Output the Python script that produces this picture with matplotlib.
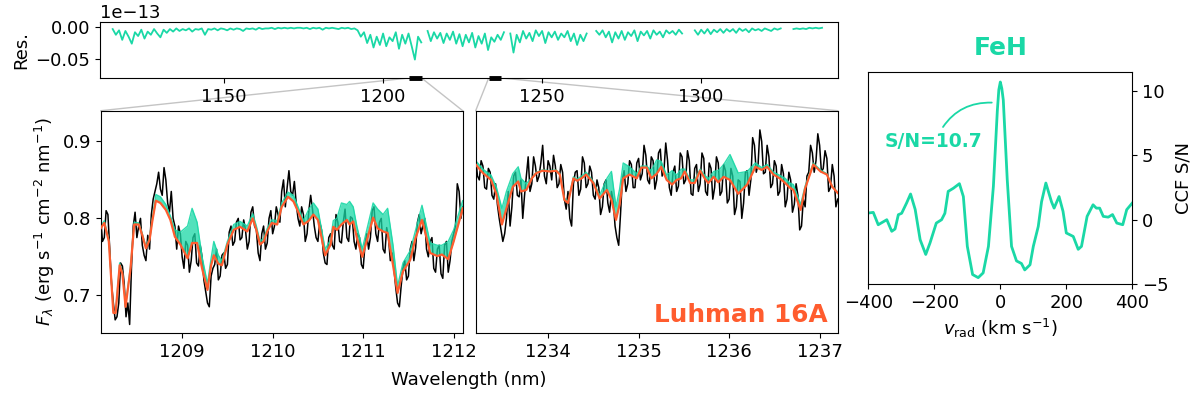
import numpy as np
from matplotlib import pyplot as plt
from matplotlib.patches import ConnectionPatch

teal = '#1ad8a6'
orange = '#ff5c2e'

# --- residual (FeH contribution), units of 1e-15, 1 nm steps, nan = gap
res_wl = np.arange(1115, 1339)
res_flux = [
    -0.3, -1.2, -0.5, -2.0, -0.6, -1.5, -2.6, -0.8, -1.4, -0.4,
    -1.8, -0.7, -1.2, -0.3, -1.0, -1.6, -0.4, -0.9, -0.3, -0.7,
    -0.2, -0.6, -0.3, -0.5, -0.2, -0.7, -0.3, -0.4, -0.2, -1.2,
    -0.3, -0.4, -0.2, -0.5, -0.2, -0.3, -0.5, -0.2, -0.4, -0.2,
    -0.3, -0.6, -0.2, -0.3, -0.2, -0.4, -0.1, -0.3, -0.2, -0.2,
    -0.1, -0.3, -0.1, -0.2, -0.1, -0.2, -0.1, -0.2, -0.1, -0.1,
    -0.2, -0.1, -0.3, -0.1, -0.2, -0.1, -0.4, -0.1, -0.2, -0.1,
    -0.2, -0.3, -0.1, -0.2, -0.1, -0.3, -0.2, -0.5, -1.5, -0.8,
    -2.5, -1.2, -3.2, -1.5, -2.8, -1.0, -3.0, -1.6, -2.2, -0.8,
    -3.4, -1.2, -2.6, -1.0, -3.0, -5.1, -1.5, -2.4, np.nan, -0.6,
    -2.2, -0.8, -1.8, -0.9, -2.5, -1.0, -2.0, -0.7, -2.6, -1.1,
    -3.0, -1.2, -2.4, -0.9, -3.2, -1.4, -2.6, -1.0, -3.6, -1.6,
    -2.3, -1.2, -2.0, -0.8, np.nan, -1.0, -4.0, -1.2, -2.4, -0.6,
    -1.8, -0.9, -2.2, -0.5, -1.4, -0.6, -2.5, -0.8, -1.6, -0.7,
    -2.0, -1.0, -1.6, -0.6, -2.2, -1.0, -2.8, -1.2, -2.2, -1.0,
    np.nan, np.nan, -0.6, -1.2, -0.5, -1.6, -0.7, -2.4, -0.8, -1.8,
    -0.6, -2.0, -0.8, -1.4, -0.5, -2.2, -0.7, -1.3, -0.6, -1.8,
    -0.5, -1.2, -0.7, -1.6, -0.5, -1.0, -0.6, -1.2, -0.4, -1.0,
    np.nan, np.nan, np.nan, -0.5, -1.2, -0.4, -1.0, -0.3, -1.1, -0.4,
    -0.8, -0.3, -0.9, -0.3, -0.7, -0.3, -0.9, -0.2, -0.6, -0.3,
    -0.8, -0.2, -0.5, -0.3, -0.6, -0.2, -0.4, -0.6, -0.2, -0.4,
    -0.2, np.nan, np.nan, np.nan, -0.3, -0.2, -0.3, -0.2, -0.3, -0.1,
    -0.2, -0.1, -0.2, -0.1,
]

# --- zoom windows (nm)
zoom_l = (1208.1, 1212.1)
zoom_r = (1233.2, 1237.2)

# --- observed spectrum, left window (0.02 nm steps)
obs_wl_l = np.linspace(1208.1, 1212.1, 201)
obs_flux_l = [
    0.800, 0.770, 0.775, 0.810, 0.805, 0.760, 0.715, 0.690, 0.668, 0.672,
    0.690, 0.742, 0.738, 0.715, 0.672, 0.690, 0.662, 0.735, 0.790, 0.808,
    0.775, 0.790, 0.800, 0.765, 0.752, 0.745, 0.778, 0.760, 0.805, 0.825,
    0.835, 0.845, 0.860, 0.838, 0.830, 0.866, 0.850, 0.820, 0.808, 0.835,
    0.800, 0.790, 0.760, 0.790, 0.780, 0.750, 0.735, 0.770, 0.765, 0.730,
    0.745, 0.775, 0.780, 0.742, 0.738, 0.765, 0.750, 0.720, 0.705, 0.690,
    0.685, 0.725, 0.735, 0.740, 0.760, 0.720, 0.725, 0.752, 0.755, 0.735,
    0.740, 0.782, 0.790, 0.765, 0.770, 0.795, 0.800, 0.772, 0.775, 0.798,
    0.785, 0.760, 0.770, 0.808, 0.815, 0.790, 0.785, 0.755, 0.745, 0.780,
    0.790, 0.760, 0.768, 0.800, 0.810, 0.780, 0.790, 0.815, 0.805, 0.795,
    0.835, 0.850, 0.815, 0.840, 0.862, 0.835, 0.830, 0.848, 0.820, 0.800,
    0.790, 0.815, 0.805, 0.770, 0.780, 0.810, 0.830, 0.812, 0.790, 0.775,
    0.770, 0.795, 0.785, 0.755, 0.742, 0.740, 0.775, 0.780, 0.765, 0.760,
    0.805, 0.795, 0.770, 0.768, 0.795, 0.812, 0.775, 0.770, 0.802, 0.800,
    0.770, 0.760, 0.780, 0.775, 0.740, 0.735, 0.765, 0.780, 0.760, 0.775,
    0.810, 0.815, 0.780, 0.770, 0.795, 0.800, 0.760, 0.755, 0.788, 0.775,
    0.745, 0.755, 0.735, 0.710, 0.690, 0.685, 0.712, 0.735, 0.745, 0.720,
    0.725, 0.760, 0.770, 0.745, 0.762, 0.795, 0.805, 0.780, 0.790, 0.800,
    0.760, 0.750, 0.770, 0.775, 0.735, 0.730, 0.760, 0.765, 0.728, 0.722,
    0.765, 0.770, 0.730, 0.745, 0.770, 0.780, 0.790, 0.845, 0.835, 0.800,
    0.815,
]

# --- observed spectrum, right window
obs_wl_r = np.linspace(1233.2, 1237.2, 201)
obs_flux_r = [
    0.878, 0.855, 0.850, 0.875, 0.868, 0.840, 0.838, 0.865, 0.860, 0.830,
    0.825, 0.845, 0.818, 0.800, 0.785, 0.770, 0.780, 0.800, 0.835, 0.790,
    0.815, 0.855, 0.860, 0.830, 0.828, 0.850, 0.800, 0.830, 0.855, 0.880,
    0.835, 0.845, 0.880, 0.868, 0.848, 0.855, 0.872, 0.895, 0.855, 0.845,
    0.875, 0.868, 0.850, 0.882, 0.868, 0.840, 0.845, 0.870, 0.860, 0.825,
    0.812, 0.835, 0.800, 0.790, 0.845, 0.860, 0.862, 0.830, 0.838, 0.880,
    0.872, 0.840, 0.845, 0.868, 0.860, 0.830, 0.825, 0.850, 0.840, 0.805,
    0.815, 0.845, 0.850, 0.820, 0.808, 0.835, 0.822, 0.790, 0.775, 0.765,
    0.805, 0.850, 0.862, 0.835, 0.845, 0.875, 0.870, 0.840, 0.840, 0.872,
    0.878, 0.850, 0.858, 0.895, 0.882, 0.850, 0.845, 0.880, 0.875, 0.838,
    0.850, 0.885, 0.890, 0.855, 0.862, 0.898, 0.875, 0.840, 0.830, 0.860,
    0.868, 0.835, 0.842, 0.885, 0.880, 0.845, 0.850, 0.888, 0.875, 0.832,
    0.830, 0.865, 0.870, 0.835, 0.845, 0.885, 0.878, 0.835, 0.830, 0.872,
    0.865, 0.825, 0.840, 0.880, 0.872, 0.830, 0.835, 0.870, 0.862, 0.820,
    0.825, 0.865, 0.855, 0.805, 0.815, 0.850, 0.848, 0.800, 0.820, 0.860,
    0.862, 0.830, 0.850, 0.905, 0.895, 0.860, 0.870, 0.915, 0.900, 0.858,
    0.860, 0.895, 0.880, 0.840, 0.845, 0.875, 0.868, 0.830, 0.835, 0.870,
    0.858, 0.815, 0.825, 0.860, 0.850, 0.808, 0.818, 0.845, 0.830, 0.785,
    0.790, 0.825, 0.815, 0.855, 0.860, 0.895, 0.885, 0.860, 0.875, 0.910,
    0.895, 0.860, 0.865, 0.888, 0.878, 0.835, 0.840, 0.870, 0.855, 0.815,
    0.825,
]

# --- best-fit model (orange) and model without FeH (teal), left window
mod_wl_l = [
    1208.10, 1208.14, 1208.19, 1208.24, 1208.265, 1208.31, 1208.34, 1208.375,
    1208.43, 1208.47, 1208.52, 1208.56, 1208.60, 1208.64, 1208.67, 1208.71,
    1208.76, 1208.82, 1208.87, 1208.92, 1208.98, 1209.06, 1209.11, 1209.165,
    1209.22, 1209.28, 1209.32, 1209.35, 1209.40, 1209.44, 1209.50, 1209.57,
    1209.64, 1209.72, 1209.78, 1209.82, 1209.86, 1209.90, 1209.94, 1209.99,
    1210.05, 1210.10, 1210.17, 1210.23, 1210.28, 1210.34, 1210.40, 1210.45,
    1210.50, 1210.58, 1210.64, 1210.67, 1210.71, 1210.76, 1210.82, 1210.85,
    1210.89, 1210.93, 1210.99, 1211.05, 1211.11, 1211.16, 1211.22, 1211.27,
    1211.33, 1211.38, 1211.44, 1211.52, 1211.58, 1211.65, 1211.70, 1211.74,
    1211.82, 1211.87, 1211.94, 1212.00, 1212.10,
]
mod_fit_l = [
    0.787, 0.794, 0.770, 0.677, 0.677, 0.739, 0.728, 0.685,
    0.735, 0.792, 0.792, 0.778, 0.761, 0.772, 0.796, 0.823,
    0.820, 0.811, 0.798, 0.776, 0.766, 0.748, 0.768, 0.768,
    0.735, 0.707, 0.739, 0.752, 0.741, 0.739, 0.766, 0.785,
    0.789, 0.783, 0.800, 0.785, 0.766, 0.770, 0.783, 0.794,
    0.792, 0.815, 0.828, 0.822, 0.809, 0.792, 0.797, 0.805,
    0.798, 0.752, 0.766, 0.789, 0.785, 0.792, 0.798, 0.792,
    0.796, 0.775, 0.750, 0.775, 0.801, 0.787, 0.783, 0.781,
    0.739, 0.703, 0.731, 0.746, 0.775, 0.798, 0.775, 0.755,
    0.751, 0.753, 0.747, 0.770, 0.813,
]
mod_nofeh_l = [
    0.790, 0.797, 0.772, 0.679, 0.679, 0.742, 0.730, 0.688,
    0.738, 0.795, 0.794, 0.780, 0.763, 0.775, 0.800, 0.831,
    0.828, 0.818, 0.803, 0.785, 0.782, 0.790, 0.813, 0.795,
    0.750, 0.715, 0.748, 0.770, 0.752, 0.745, 0.770, 0.792,
    0.796, 0.790, 0.806, 0.790, 0.770, 0.774, 0.787, 0.798,
    0.797, 0.820, 0.834, 0.830, 0.815, 0.797, 0.812, 0.820,
    0.812, 0.760, 0.772, 0.797, 0.800, 0.820, 0.818, 0.822,
    0.815, 0.790, 0.760, 0.790, 0.820, 0.812, 0.805, 0.813,
    0.765, 0.712, 0.742, 0.758, 0.785, 0.817, 0.790, 0.768,
    0.765, 0.765, 0.770, 0.785, 0.823,
]

# --- models, right window
mod_wl_r = [
    1233.20, 1233.28, 1233.37, 1233.43, 1233.49, 1233.54, 1233.61, 1233.67,
    1233.70, 1233.76, 1233.82, 1233.87, 1233.94, 1234.02, 1234.09, 1234.13,
    1234.18, 1234.22, 1234.28, 1234.32, 1234.37, 1234.42, 1234.50, 1234.57,
    1234.65, 1234.70, 1234.75, 1234.79, 1234.83, 1234.90, 1234.98, 1235.03,
    1235.09, 1235.14, 1235.20, 1235.25, 1235.31, 1235.37, 1235.42, 1235.47,
    1235.51, 1235.57, 1235.62, 1235.68, 1235.73, 1235.77, 1235.83, 1235.88,
    1235.94, 1236.01, 1236.10, 1236.20, 1236.29, 1236.36, 1236.42, 1236.49,
    1236.56, 1236.62, 1236.67, 1236.71, 1236.79, 1236.84, 1236.93, 1237.01,
    1237.08, 1237.14, 1237.20,
]
mod_fit_r = [
    0.870, 0.859, 0.850, 0.831, 0.792, 0.813, 0.841, 0.848,
    0.835, 0.837, 0.852, 0.859, 0.862, 0.861, 0.862, 0.857,
    0.824, 0.820, 0.852, 0.849, 0.852, 0.857, 0.846, 0.826,
    0.837, 0.824, 0.798, 0.818, 0.852, 0.857, 0.852, 0.866,
    0.866, 0.852, 0.858, 0.867, 0.850, 0.844, 0.850, 0.852,
    0.861, 0.846, 0.846, 0.862, 0.852, 0.846, 0.854, 0.847,
    0.854, 0.850, 0.832, 0.844, 0.867, 0.863, 0.867, 0.857,
    0.852, 0.846, 0.840, 0.837, 0.811, 0.839, 0.870, 0.861,
    0.857, 0.841, 0.833,
]
mod_nofeh_r = [
    0.875, 0.864, 0.856, 0.840, 0.813, 0.835, 0.858, 0.867,
    0.852, 0.845, 0.853, 0.860, 0.863, 0.862, 0.863, 0.858,
    0.826, 0.822, 0.854, 0.851, 0.855, 0.860, 0.848, 0.830,
    0.852, 0.861, 0.815, 0.838, 0.872, 0.867, 0.858, 0.868,
    0.868, 0.862, 0.876, 0.874, 0.856, 0.862, 0.856, 0.864,
    0.864, 0.850, 0.850, 0.864, 0.856, 0.852, 0.861, 0.862,
    0.870, 0.883, 0.859, 0.861, 0.872, 0.866, 0.870, 0.860,
    0.856, 0.852, 0.846, 0.844, 0.818, 0.842, 0.872, 0.863,
    0.858, 0.842, 0.834,
]

# --- cross-correlation
ccf_v = [
    -400, -385, -370, -344, -329, -319, -309, -299, -284, -272,
    -258, -243, -226, -213, -194, -178, -168, -158, -142, -124,
    -112, -100, -84, -67, -52, -36, -21, -9, -4.5, 0,
    4.5, 9, 21, 34, 49, 64, 74, 90, 100, 115,
    125, 138, 155, 163, 178, 190, 200, 221, 236, 246,
    263, 281, 291, 301, 312, 327, 340, 353, 371, 383,
    400,
]
ccf_snr = [
    0.52, 0.57, -0.39, 0.0, -0.9, -0.72, 0.39, 0.5, 1.3, 2.0,
    0.8, -1.55, -2.7, -1.8, -0.26, 0.0, 0.5, 2.2, 2.45, 2.8,
    1.8, -2.07, -4.26, -4.5, -4.13, -2.07, 2.6, 8.5, 10.1, 10.7,
    10.2, 9.3, 3.1, -2.07, -3.2, -3.4, -3.9, -3.5, -2.07, -0.52,
    1.4, 2.85, 1.4, 0.9, 1.8, 0.65, -1.03, -1.3, -2.3, -2.07,
    0.26, 1.16, 0.9, 0.9, 0.26, 0.2, 0.4, -0.26, -0.39, 0.78,
    1.3,
]
ccf_peak = 10.7


def plot_fig(save_fig=True):
    plt.rcParams['font.size'] = 13
    fig = plt.figure(figsize=(12, 3.94), dpi=100)

    ax_res = fig.add_axes([0.0833, 0.802, 0.615, 0.142])
    ax_l = fig.add_axes([0.0839, 0.155, 0.3017, 0.564])
    ax_r = fig.add_axes([0.3964, 0.155, 0.3017, 0.564], sharey=ax_l)
    ax_c = fig.add_axes([0.7236, 0.279, 0.22, 0.539])

    # residual panel
    res_ylim = (-8e-15, 0.8e-15)
    ax_res.plot(res_wl, np.array(res_flux) * 1e-15, color=teal, lw=1.3)
    ax_res.set_xlim(1111, 1343)
    ax_res.set_ylim(res_ylim)
    ax_res.set_xticks([1150, 1200, 1250, 1300])
    ax_res.set_yticks([0, -5e-15])
    ax_res.ticklabel_format(axis='y', style='sci', scilimits=(-13, -13))
    ax_res.set_ylabel('Res.')
    for zoom in (zoom_l, zoom_r):
        ax_res.plot(zoom, [res_ylim[0], res_ylim[0]], color='k', lw=3.5,
                    solid_capstyle='butt', clip_on=False, zorder=5)

    # spectra panels
    for ax, zoom, owl, ofl, mwl, mfit, mno in (
            (ax_l, zoom_l, obs_wl_l, obs_flux_l, mod_wl_l, mod_fit_l, mod_nofeh_l),
            (ax_r, zoom_r, obs_wl_r, obs_flux_r, mod_wl_r, mod_fit_r, mod_nofeh_r)):
        ax.plot(owl, ofl, color='k', lw=1.1, zorder=1)
        ax.fill_between(mwl, mfit, mno, color=teal, alpha=0.75, lw=0, zorder=2)
        ax.plot(mwl, mno, color=teal, lw=1.0, alpha=0.9, zorder=2)
        ax.plot(mwl, mfit, color=orange, lw=1.6, zorder=3)
        ax.set_xlim(zoom)
        con_a = ConnectionPatch(xyA=(zoom[0], res_ylim[0]), coordsA=ax_res.transData,
                                xyB=(0, 1), coordsB=ax.transAxes,
                                color='#c4c4c4', lw=1.0, zorder=0)
        con_b = ConnectionPatch(xyA=(zoom[1], res_ylim[0]), coordsA=ax_res.transData,
                                xyB=(1, 1), coordsB=ax.transAxes,
                                color='#c4c4c4', lw=1.0, zorder=0)
        fig.add_artist(con_a)
        fig.add_artist(con_b)

    ax_l.set_ylim(0.651, 0.940)
    ax_l.set_yticks([0.7, 0.8, 0.9])
    ax_l.set_xticks([1209, 1210, 1211, 1212])
    ax_r.set_xticks([1234, 1235, 1236, 1237])
    ax_r.tick_params(axis='y', left=False, labelleft=False)
    ax_l.set_ylabel(r'$F_\lambda$ (erg s$^{-1}$ cm$^{-2}$ nm$^{-1}$)')
    ax_r.text(0.972, 0.08, 'Luhman 16A', transform=ax_r.transAxes, ha='right',
              va='center', color=orange, fontsize=17.8, fontweight='bold')
    fig.text(0.391, 0.035, 'Wavelength (nm)', ha='center', va='center', fontsize=13)

    # CCF panel
    ax_c.plot(ccf_v, ccf_snr, color=teal, lw=2)
    ax_c.set_xlim(-400, 400)
    ax_c.set_ylim(-4.95, 11.5)
    ax_c.set_xticks([-400, -200, 0, 200, 400])
    ax_c.set_yticks([-5, 0, 5, 10])
    ax_c.yaxis.tick_right()
    ax_c.yaxis.set_label_position('right')
    ax_c.set_ylabel('CCF S/N')
    ax_c.set_xlabel(r'$v_{\rm rad}$ (km s$^{-1}$)')
    ax_c.set_title('FeH', color=teal, fontsize=18, fontweight='bold', pad=12)
    ax_c.annotate(f'S/N={ccf_peak}', xy=(-26, 9.1), xytext=(-201, 6.07),
                  ha='center', va='center', color=teal, fontsize=13.5,
                  fontweight='bold',
                  arrowprops=dict(arrowstyle='-', color=teal, lw=1.3,
                                  connectionstyle='arc3,rad=-0.3',
                                  relpos=(0.56, 1.0), shrinkA=2, shrinkB=0))

    if save_fig:
        plt.savefig('out.png', dpi=100)

    return fig


if __name__ == '__main__':
    plot_fig(save_fig=True)
